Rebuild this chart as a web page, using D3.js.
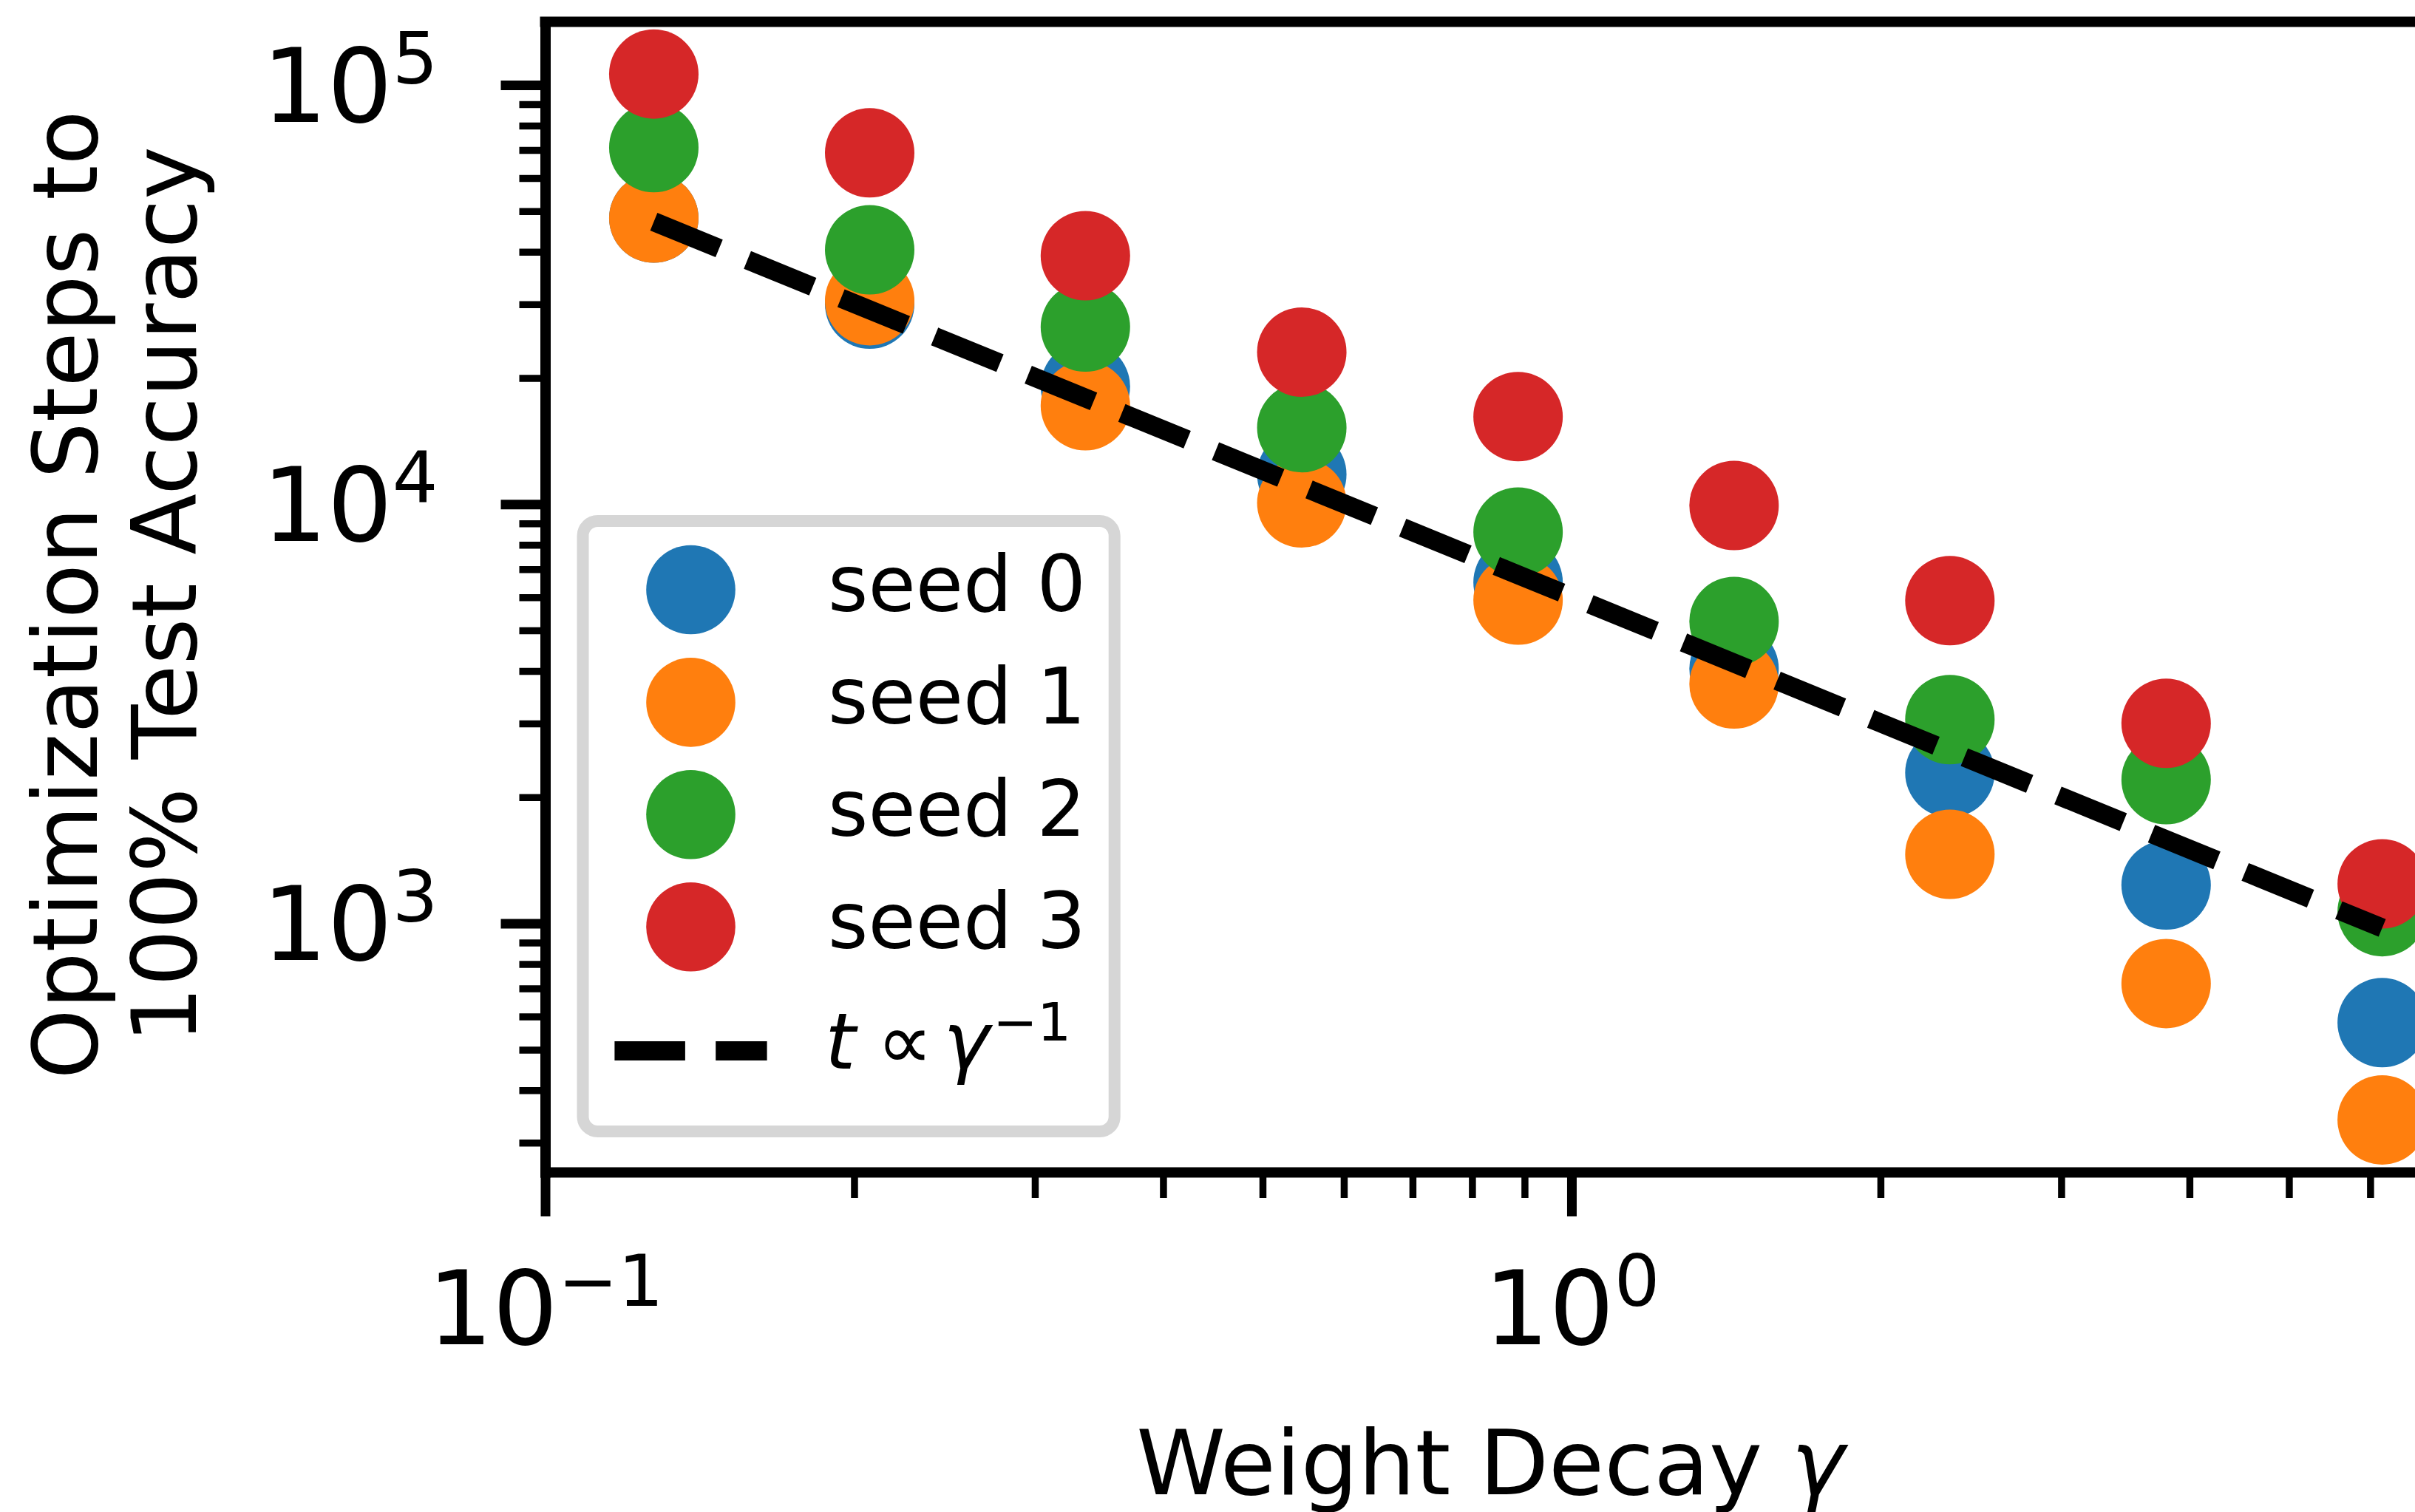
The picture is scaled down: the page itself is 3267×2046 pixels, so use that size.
<!DOCTYPE html>
<html>
<head>
<meta charset="utf-8">
<script src="https://cdn.jsdelivr.net/npm/d3@7"></script>
<style>
  html, body { margin: 0; padding: 0; background: #ffffff; overflow: hidden; }
  svg { display: block; }
  text { font-family: "DejaVu Sans", sans-serif; fill: #000; }
</style>
</head>
<body>
<script>
// ---------------- data ----------------
const gammas = [0.1276, 0.2071, 0.336, 0.546, 0.887, 1.44, 2.337, 3.796, 6.164];
const seed0 = [48150, 30010, 19090, 11780, 6517, 4050, 2288, 1235, 580];
const seed1 = [48150, 30580, 17180, 10070, 5907, 3726, 1462, 719, 340];
const seed2 = [70900, 40450, 26460, 15230, 8585, 5252, 3064, 2203, 1067];
const seed3 = [106200, 68900, 39150, 23060, 16180, 9932, 5887, 3002, 1243];
const seriesNames = ["seed 0", "seed 1", "seed 2", "seed 3"];
const fitGamma = [0.1276, 6.164];
const fitSteps = [47200, 976];
const xMajor = [0.1, 1];
const xMajorExp = ["\u22121", "0"];
const xMinor = [0.2, 0.3, 0.4, 0.5, 0.6, 0.7, 0.8, 0.9, 2, 3, 4, 5, 6];
const yMajor = [1e3, 1e4, 1e5];
const yMajorExp = ["3", "4", "5"];
const yMinor = [300, 400, 500, 600, 700, 800, 900,
                2000, 3000, 4000, 5000, 6000, 7000, 8000, 9000,
                20000, 30000, 40000, 50000, 60000, 70000, 80000, 90000];
const xDomain = [0.1, 6.95];
const yDomain = [255.3, 141450];

// ---------------- layout ----------------
const W = 3267, H = 2046;
const L = 737.5, R = 3295, T = 29.6, B = 1586;
const colors = ["#1f77b4", "#ff7f0e", "#2ca02c", "#d62728"];
const series = [seed0, seed1, seed2, seed3];
const markerR = 60.5;

const svg = d3.select("body").append("svg").attr("width", W).attr("height", H);

const x = d3.scaleLog().domain(xDomain).range([L, R]);
const y = d3.scaleLog().domain(yDomain).range([B, T]);

// ---------------- points ----------------
const pts = svg.append("g");
series.forEach((s, i) => {
  pts.append("g").selectAll("circle").data(s).join("circle")
    .attr("cx", (d, j) => x(gammas[j]))
    .attr("cy", d => y(d))
    .attr("r", markerR)
    .attr("fill", colors[i]);
});

// dashed fit line
const line = d3.line().x(d => x(d[0])).y(d => y(d[1]));
svg.append("path")
  .datum(fitGamma.map((g, i) => [g, fitSteps[i]]))
  .attr("d", line)
  .attr("fill", "none")
  .attr("stroke", "#000")
  .attr("stroke-width", 25.8)
  .attr("stroke-dasharray", "95.5 41.3")
  .attr("stroke-linecap", "butt");

// ---------------- axes ----------------
function styleAxis(g, tickW) {
  g.attr("font-family", null).attr("font-size", null);
  g.selectAll(".tick line").attr("stroke", "#000").attr("stroke-width", tickW);
  g.select(".domain").attr("stroke", "#000").attr("stroke-width", 14).attr("stroke-linecap", "square");
}

// x minor
const gxm = svg.append("g").attr("transform", `translate(0,${B})`)
  .call(d3.axisBottom(x).tickValues(xMinor).tickSize(35).tickSizeOuter(0).tickFormat(""));
styleAxis(gxm, 9.5);
gxm.select(".domain").remove();
gxm.selectAll(".tick text").remove();

// y minor
const gym = svg.append("g").attr("transform", `translate(${L},0)`)
  .call(d3.axisLeft(y).tickValues(yMinor).tickSize(35).tickSizeOuter(0).tickFormat(""));
styleAxis(gym, 9.5);
gym.select(".domain").remove();
gym.selectAll(".tick text").remove();

// x major
const gx = svg.append("g").attr("transform", `translate(0,${B})`)
  .call(d3.axisBottom(x).tickValues(xMajor).tickSize(60).tickSizeOuter(0).tickFormat(() => "10"));
styleAxis(gx, 13);
gx.selectAll(".tick text")
  .attr("y", 233).attr("dy", null)
  .attr("text-anchor", "middle")
  .attr("font-size", 138.5)
  .each(function(d, i) {
    const t = d3.select(this);
    t.text("");
    t.append("tspan").text("10");
    t.append("tspan").attr("font-size", 97).attr("dy", -52).text(xMajorExp[i]);
  });

// y major
const gy = svg.append("g").attr("transform", `translate(${L},0)`)
  .call(d3.axisLeft(y).tickValues(yMajor).tickSize(60).tickSizeOuter(0).tickFormat(() => "10"));
styleAxis(gy, 13);
gy.selectAll(".tick text")
  .attr("x", -145).attr("y", 49).attr("dy", null)
  .attr("text-anchor", "end")
  .attr("font-size", 138.5)
  .each(function(d, i) {
    const t = d3.select(this);
    t.text("");
    t.append("tspan").text("10");
    t.append("tspan").attr("font-size", 97).attr("dy", -52).text(yMajorExp[i]);
  });

// top and right spines
svg.append("line").attr("x1", L).attr("x2", R).attr("y1", T).attr("y2", T)
  .attr("stroke", "#000").attr("stroke-width", 14).attr("stroke-linecap", "square");
svg.append("line").attr("x1", R).attr("x2", R).attr("y1", T).attr("y2", B)
  .attr("stroke", "#000").attr("stroke-width", 14).attr("stroke-linecap", "square");

// ---------------- axis labels ----------------
const xl = svg.append("text").attr("x", (L + R) / 2).attr("y", 2022)
  .attr("text-anchor", "middle").attr("font-size", 122);
xl.append("tspan").text("Weight Decay ");
xl.append("tspan").attr("font-style", "italic").text("\u03b3");

const yl = svg.append("g").attr("transform", `translate(0,805) rotate(-90)`);
yl.append("text").attr("x", 0).attr("y", 130.5).attr("text-anchor", "middle")
  .attr("font-size", 121).text("Optimization Steps to");
yl.append("text").attr("x", 0).attr("y", 264.5).attr("text-anchor", "middle")
  .attr("font-size", 121).text("100% Test Accuracy");

// ---------------- legend ----------------
const lg = svg.append("g");
lg.append("rect")
  .attr("x", 788.5).attr("y", 705).attr("width", 1507.7 - 788.5).attr("height", 1531 - 705)
  .attr("rx", 20).attr("ry", 20)
  .attr("fill", "#ffffff").attr("fill-opacity", 0.8)
  .attr("stroke", "#d6d6d6").attr("stroke-width", 16);

const legRowY = [798, 950.4, 1102.3, 1254.2];
const legTextY = [827, 979, 1131, 1283];
seriesNames.forEach((name, i) => {
  lg.append("circle").attr("cx", 934.5).attr("cy", legRowY[i]).attr("r", 60.3).attr("fill", colors[i]);
  lg.append("text").attr("x", 1120).attr("y", legTextY[i]).attr("font-size", 104.5).text(name);
});
lg.append("line").attr("x1", 831.4).attr("x2", 1037.6).attr("y1", 1422).attr("y2", 1422)
  .attr("stroke", "#000").attr("stroke-width", 25.8)
  .attr("stroke-dasharray", "95.5 41.3").attr("stroke-linecap", "butt");
const lt = lg.append("text").attr("y", 1446).attr("font-size", 106);
lt.append("tspan").attr("x", 1116).attr("font-style", "italic").text("t");
lt.append("tspan").attr("x", 1186).text("\u221d");
lt.append("tspan").attr("x", 1276).attr("font-style", "italic").text("\u03b3");
lt.append("tspan").attr("x", 1343).attr("y", 1408).attr("font-size", 72).text("\u22121");
</script>
</body>
</html>
